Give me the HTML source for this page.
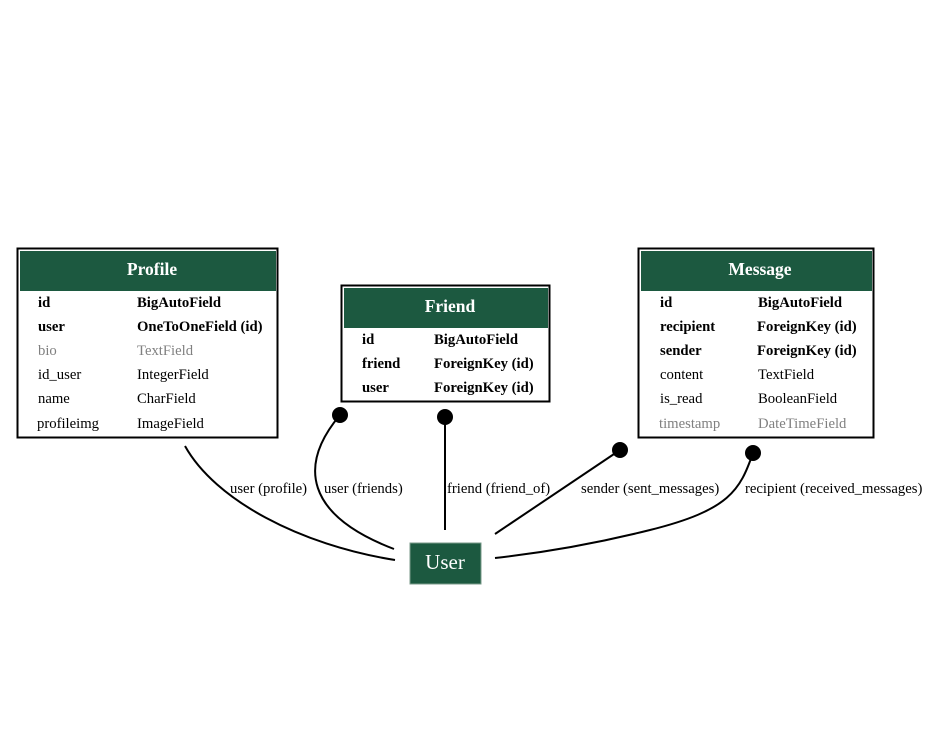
<!DOCTYPE html>
<html><head><meta charset="utf-8"><style>body{margin:0;background:#fff}svg{display:block}</style></head><body>
<svg width="932" height="733" viewBox="0 0 932 733" font-family="Liberation Serif, serif" font-size="14.7">
<rect width="932" height="733" fill="#fff"/>
<!-- Profile -->
<rect x="17.5" y="248.5" width="260" height="189" fill="#fff" stroke="#000" stroke-width="2"/>
<rect x="20" y="251" width="256" height="40" fill="#1c5940"/>
<text x="152" y="275" text-anchor="middle" fill="#fff" font-weight="bold" font-size="17.5">Profile</text>
<g font-weight="bold"><text x="38" y="307">id</text><text x="137" y="307">BigAutoField</text>
<text x="38" y="331">user</text><text x="137" y="331">OneToOneField (id)</text></g>
<g fill="#808080"><text x="38" y="355">bio</text><text x="137" y="355">TextField</text></g>
<text x="38" y="379">id_user</text><text x="137" y="379">IntegerField</text>
<text x="38" y="403">name</text><text x="137" y="403">CharField</text>
<text x="37" y="428">profileimg</text><text x="137" y="428">ImageField</text>
<!-- Friend -->
<rect x="341.5" y="285.5" width="208" height="116" fill="#fff" stroke="#000" stroke-width="2"/>
<rect x="344" y="288" width="204" height="40" fill="#1c5940"/>
<text x="450" y="312" text-anchor="middle" fill="#fff" font-weight="bold" font-size="17.5">Friend</text>
<g font-weight="bold"><text x="362" y="344">id</text><text x="434" y="344">BigAutoField</text>
<text x="362" y="368">friend</text><text x="434" y="368">ForeignKey (id)</text>
<text x="362" y="392">user</text><text x="434" y="392">ForeignKey (id)</text></g>
<!-- Message -->
<rect x="638.5" y="248.5" width="235" height="189" fill="#fff" stroke="#000" stroke-width="2"/>
<rect x="641" y="251" width="231" height="40" fill="#1c5940"/>
<text x="760" y="275" text-anchor="middle" fill="#fff" font-weight="bold" font-size="17.5">Message</text>
<g font-weight="bold"><text x="660" y="307">id</text><text x="758" y="307">BigAutoField</text>
<text x="660" y="331">recipient</text><text x="757" y="331">ForeignKey (id)</text>
<text x="660" y="355">sender</text><text x="757" y="355">ForeignKey (id)</text></g>
<text x="660" y="379">content</text><text x="758" y="379">TextField</text>
<text x="660" y="403">is_read</text><text x="758" y="403">BooleanField</text>
<g fill="#808080"><text x="659" y="428">timestamp</text><text x="758" y="428">DateTimeField</text></g>
<!-- User -->
<rect x="410" y="543" width="71" height="41" fill="#1c5940" stroke="#7a9a8a" stroke-width="1"/>
<text x="445" y="569" text-anchor="middle" fill="#fff" font-size="21">User</text>
<!-- edges -->
<g fill="none" stroke="#000" stroke-width="2">
<path d="M185,446 C215,500 300,545 395,560"/>
<path d="M340,415 C298,465 305,515 394,549"/>
<path d="M445,417 L445,530"/>
<path d="M620,450 L495,534"/>
<path d="M753,453 C740,490 730,510 650,530 C590,545 540,553 495,558"/>
</g>
<g fill="#000"><circle cx="340" cy="415" r="8"/><circle cx="445" cy="417" r="8"/><circle cx="620" cy="450" r="8"/><circle cx="753" cy="453" r="8"/></g>
<text x="230" y="493">user (profile)</text>
<text x="324" y="493">user (friends)</text>
<text x="447" y="493">friend (friend_of)</text>
<text x="581" y="493">sender (sent_messages)</text>
<text x="745" y="493">recipient (received_messages)</text>
</svg>
</body></html>
